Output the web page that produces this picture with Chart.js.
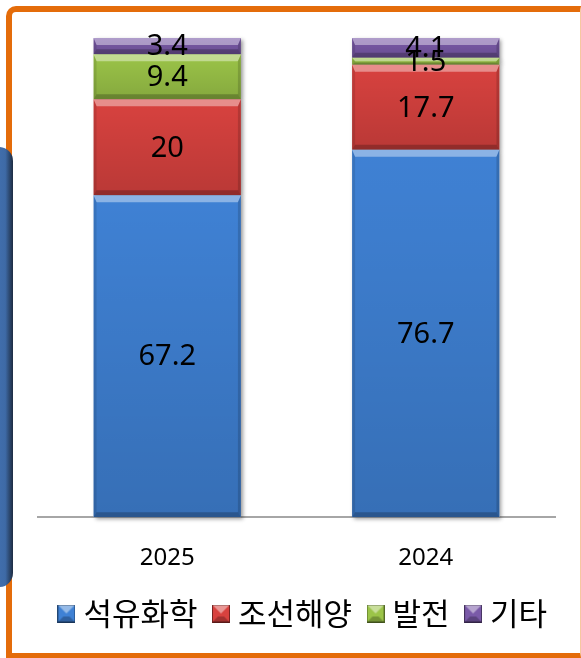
<!DOCTYPE html>
<html>
<head>
<meta charset="utf-8">
<script src="https://cdn.jsdelivr.net/npm/chart.js@4.4.1/dist/chart.umd.min.js"></script>
<style>
html, body { margin: 0; padding: 0; background: #fff; }
#wrap { position: relative; width: 581px; height: 658px; overflow: hidden; }
#frame {
  position: absolute; left: 6px; top: 6px; right: 0; bottom: 0;
  border-top: 6px solid #e46c0a; border-left: 6px solid #e46c0a;
  border-bottom: 5px solid #e46c0a; border-right: 1px solid #f6c8a0;
  border-top-left-radius: 10px; box-sizing: border-box;
}
#tab {
  position: absolute; left: -22px; top: 147px; width: 35px; height: 440px;
  border-radius: 14px;
  background: linear-gradient(to right, #4a7cc0 0%, #3e6aa6 78%, #1d2c42 100%);
}
canvas { position: absolute; left: 0; top: 0; }
</style>
</head>
<body>
<div id="wrap">
  <div id="frame"></div>
  <div id="tab"></div>
  <canvas id="chart" width="581" height="658"></canvas>
</div>
<script>
const years = ['2025', '2024'];
const seriesNames = ['석유화학', '조선해양', '발전', '기타'];
const petro = [67.2, 76.7];
const ship = [20, 17.7];
const power = [9.4, 1.5];
const other = [3.4, 4.1];
const colors = ['#3f81d4', '#d8423f', '#9bc448', '#7a5aa8'];

const LABEL_FONT = '"Noto Sans", "DejaVu Sans", sans-serif';
const KR_FONT = '"Noto Sans CJK KR", "Noto Sans", sans-serif';

// small bevelled squares for the legend
function makeIcon(color) {
  const c = document.createElement('canvas');
  c.width = 18; c.height = 18;
  const g = c.getContext('2d');
  g.fillStyle = color;
  g.fillRect(0, 0, 18, 18);
  g.fillStyle = 'rgba(255,255,255,0.45)';
  g.beginPath(); g.moveTo(0, 0); g.lineTo(18, 0); g.lineTo(9, 9); g.closePath(); g.fill();
  g.fillStyle = 'rgba(0,0,0,0.25)';
  g.beginPath(); g.moveTo(0, 18); g.lineTo(18, 18); g.lineTo(12, 12); g.lineTo(6, 12); g.closePath(); g.fill();
  g.strokeStyle = 'rgba(0,0,0,0.45)';
  g.lineWidth = 1;
  g.strokeRect(0.5, 0.5, 17, 17);
  return c;
}
const icons = colors.map(makeIcon);

function barRect(bar) {
  const p = bar.getProps(['x', 'y', 'base', 'width'], true);
  return { l: p.x - p.width / 2, r: p.x + p.width / 2, t: Math.min(p.y, p.base), b: Math.max(p.y, p.base), x: p.x };
}

function poly(ctx, pts, fill) {
  ctx.fillStyle = fill;
  ctx.beginPath();
  ctx.moveTo(pts[0][0], pts[0][1]);
  for (let i = 1; i < pts.length; i++) ctx.lineTo(pts[i][0], pts[i][1]);
  ctx.closePath();
  ctx.fill();
}

const bevelPlugin = {
  id: 'bevel',
  beforeDatasetsDraw(chart) {
    const ctx = chart.ctx;
    ctx.save();
    ctx.fillStyle = '#fff';
    ctx.shadowColor = 'rgba(0,0,0,0.4)';
    ctx.shadowBlur = 4; ctx.shadowOffsetX = 2; ctx.shadowOffsetY = 2;
    chart.data.datasets.forEach((ds, i) => {
      chart.getDatasetMeta(i).data.forEach(bar => {
        const r = barRect(bar);
        ctx.fillRect(r.l, r.t, r.r - r.l, r.b - r.t);
      });
    });
    ctx.restore();
  },
  afterDatasetsDraw(chart) {
    const ctx = chart.ctx;
    ctx.save();
    chart.data.datasets.forEach((ds, i) => {
      chart.getDatasetMeta(i).data.forEach(bar => {
        const { l, r, t, b } = barRect(bar);
        const h = b - t;
        const st = Math.min(7, h / 2), sb = Math.min(5, h / 3), ss = 3;
        const grad = ctx.createLinearGradient(0, t, 0, b);
        grad.addColorStop(0, 'rgba(0,0,0,0)');
        grad.addColorStop(1, 'rgba(0,0,0,0.14)');
        ctx.fillStyle = grad;
        ctx.fillRect(l, t, r - l, h);
        poly(ctx, [[l, t], [r, t], [r - ss, t + st], [l + ss, t + st]], 'rgba(255,255,255,0.4)');
        poly(ctx, [[l, b], [r, b], [r - ss, b - sb], [l + ss, b - sb]], 'rgba(0,0,0,0.22)');
        poly(ctx, [[l, t], [l + ss, t + st], [l + ss, b - sb], [l, b]], 'rgba(0,0,0,0.1)');
        poly(ctx, [[r, t], [r - ss, t + st], [r - ss, b - sb], [r, b]], 'rgba(0,0,0,0.15)');
      });
    });
    // value labels
    ctx.fillStyle = '#000';
    ctx.font = '29px ' + LABEL_FONT;
    ctx.textAlign = 'center';
    ctx.textBaseline = 'middle';
    chart.data.datasets.forEach((ds, i) => {
      chart.getDatasetMeta(i).data.forEach((bar, j) => {
        const { t, b, x } = barRect(bar);
        ctx.fillText(String(ds.data[j]), x, (t + b) / 2 + 1);
      });
    });
    ctx.restore();
  }
};

// invisible side axes just reserve room so the legend can use the full width
const spacer = (w, pos) => ({
  position: pos,
  display: true,
  grid: { display: false },
  border: { display: false },
  ticks: { display: false },
  afterFit(s) { s.width = w; }
});

new Chart(document.getElementById('chart'), {
  type: 'bar',
  data: {
    labels: years,
    datasets: [
      { label: seriesNames[0], data: petro, backgroundColor: colors[0] },
      { label: seriesNames[1], data: ship, backgroundColor: colors[1] },
      { label: seriesNames[2], data: power, backgroundColor: colors[2] },
      { label: seriesNames[3], data: other, backgroundColor: colors[3] }
    ]
  },
  options: {
    responsive: false,
    animation: false,
    barPercentage: 0.57,
    categoryPercentage: 1,
    layout: { padding: { left: 31, right: 0, top: 38, bottom: 19 } },
    scales: {
      x: {
        stacked: true,
        grid: { display: false, drawTicks: false },
        border: { display: true, color: '#a6a6a6', width: 2 },
        ticks: { color: '#000', padding: 27, font: { size: 24, family: LABEL_FONT } },
        afterFit(scale) { scale.height -= 24; }
      },
      y: Object.assign(spacer(7, 'left'), { stacked: true, min: 0, max: 100 }),
      yr: spacer(26, 'right')
    },
    plugins: {
      tooltip: { enabled: false },
      legend: {
        position: 'bottom',
        labels: {
          usePointStyle: true,
          boxWidth: 3,
          boxHeight: 18,
          padding: 22,
          color: '#000',
          font: { size: 31, family: KR_FONT },
          generateLabels(chart) {
            return chart.data.datasets.map((ds, i) => ({
              text: ds.label,
              fillStyle: colors[i],
              strokeStyle: colors[i],
              pointStyle: icons[i],
              fontColor: '#000',
              hidden: false,
              datasetIndex: i
            }));
          }
        }
      }
    }
  },
  plugins: [bevelPlugin]
});
</script>
</body>
</html>
